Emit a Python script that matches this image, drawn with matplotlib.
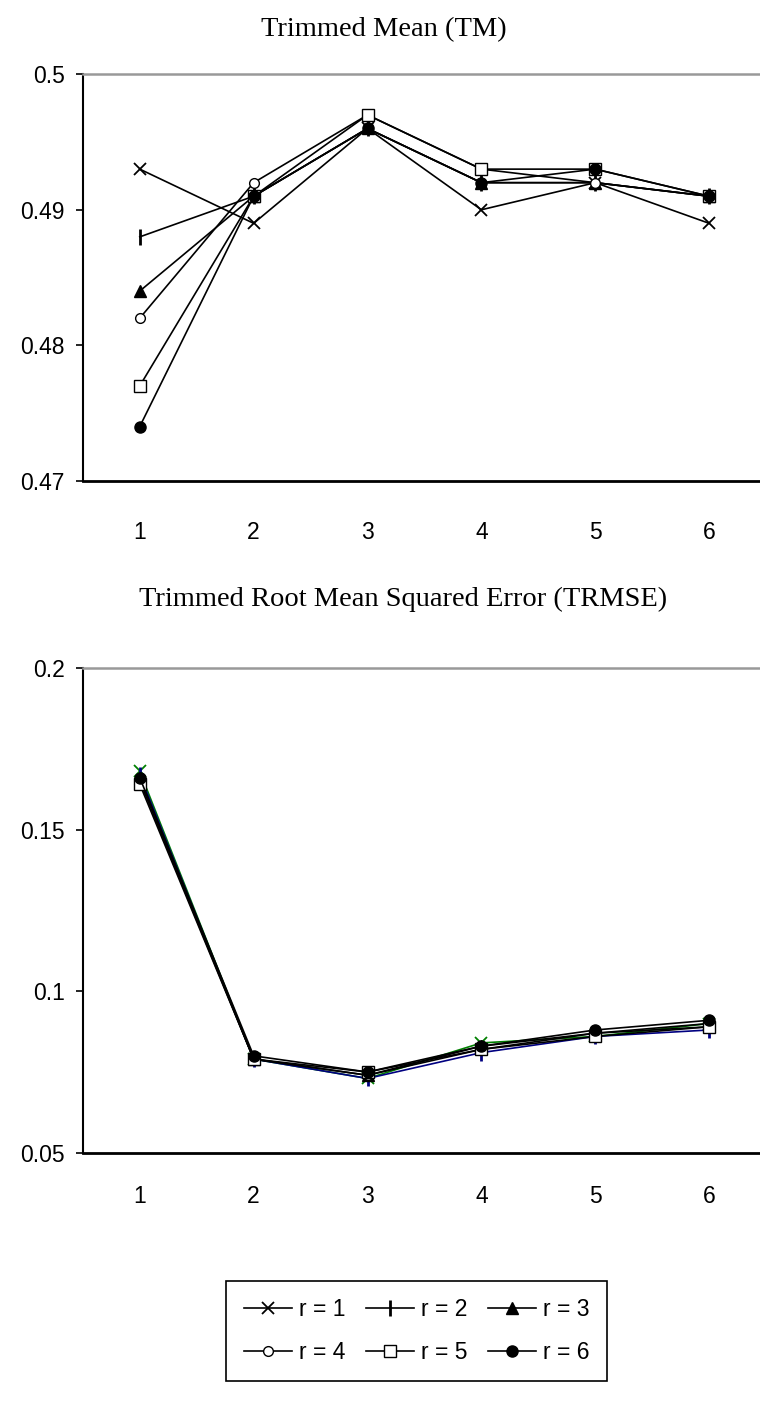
import matplotlib
matplotlib.use("Agg")
import matplotlib.pyplot as plt

plt.rcParams["font.family"] = ["Liberation Sans", "DejaVu Sans"]

x_vals = [1, 2, 3, 4, 5, 6]
x_labels = ["1", "2", "3", "4", "5", "6"]
series_names = ["r = 1", "r = 2", "r = 3", "r = 4", "r = 5", "r = 6"]

# Trimmed Mean (TM)
tm_r1 = [0.493, 0.489, 0.496, 0.490, 0.492, 0.489]
tm_r2 = [0.488, 0.491, 0.496, 0.492, 0.492, 0.491]
tm_r3 = [0.484, 0.491, 0.496, 0.492, 0.492, 0.491]
tm_r4 = [0.482, 0.492, 0.497, 0.493, 0.492, 0.491]
tm_r5 = [0.477, 0.491, 0.497, 0.493, 0.493, 0.491]
tm_r6 = [0.474, 0.491, 0.496, 0.492, 0.493, 0.491]

# Trimmed Root Mean Squared Error (TRMSE)
trmse_r1 = [0.168, 0.079, 0.073, 0.084, 0.086, 0.090]
trmse_r2 = [0.167, 0.079, 0.073, 0.081, 0.086, 0.088]
trmse_r3 = [0.166, 0.079, 0.074, 0.083, 0.087, 0.090]
trmse_r4 = [0.165, 0.079, 0.074, 0.082, 0.087, 0.089]
trmse_r5 = [0.164, 0.079, 0.075, 0.082, 0.086, 0.089]
trmse_r6 = [0.166, 0.080, 0.075, 0.083, 0.088, 0.091]

tm_yticks = [0.47, 0.48, 0.49, 0.5]
tm_ylabels = ["0.47", "0.48", "0.49", "0.5"]
trmse_yticks = [0.05, 0.1, 0.15, 0.2]
trmse_ylabels = ["0.05", "0.1", "0.15", "0.2"]

styles = [
    dict(marker="x", mfc="none", ms=9, mew=1.3),
    dict(marker="|", mfc="none", ms=11, mew=2.0),
    dict(marker="^", mfc="black", ms=8, mew=1.0),
    dict(marker="o", mfc="white", ms=7, mew=1.0),
    dict(marker="s", mfc="white", ms=8, mew=1.0),
    dict(marker="o", mfc="black", ms=8, mew=1.0),
]

TICK_FS = 16.5
TITLE_FS = 20.5


def style_axes(ax, yticks, ylabels, ylim, xpad):
    ax.set_xlim(0.5, 6.5)
    ax.set_ylim(*ylim)
    ax.set_xticks(x_vals)
    ax.set_xticklabels(x_labels)
    ax.set_yticks(yticks)
    ax.set_yticklabels(ylabels)
    ax.tick_params(axis="x", length=0, pad=xpad, labelsize=TICK_FS)
    ax.tick_params(axis="y", direction="out", length=5, width=1.2, pad=8, labelsize=TICK_FS)
    ax.spines["right"].set_visible(False)
    ax.spines["top"].set_color("#999999")
    ax.spines["top"].set_linewidth(1.8)
    ax.spines["left"].set_linewidth(1.5)
    ax.spines["bottom"].set_linewidth(2.0)


fig = plt.figure(figsize=(7.6, 14.18), dpi=100)

ax1 = fig.add_axes([0.109, 0.661, 0.899, 0.2866])
tm_series = [tm_r1, tm_r2, tm_r3, tm_r4, tm_r5, tm_r6]
handles = []
for vals, st, name in zip(tm_series, styles, series_names):
    (h,) = ax1.plot(x_vals, vals, color="black", mec="black", lw=1.2, label=name, **st)
    handles.append(h)
style_axes(ax1, tm_yticks, tm_ylabels, (0.47, 0.5), 29)
fig.text(0.505, 0.979, "Trimmed Mean (TM)", ha="center", va="center",
         fontsize=TITLE_FS, family=["Liberation Serif", "DejaVu Serif"])

ax2 = fig.add_axes([0.109, 0.187, 0.899, 0.342])
trmse_series = [trmse_r1, trmse_r2, trmse_r3, trmse_r4, trmse_r5, trmse_r6]
colors = ["#008000", "#000080", "black", "black", "black", "black"]
for vals, st, c in zip(trmse_series, styles, colors):
    ax2.plot(x_vals, vals, color=c, mec=c, lw=1.2, **st)
style_axes(ax2, trmse_yticks, trmse_ylabels, (0.05, 0.2), 23)
fig.text(0.53, 0.577, "Trimmed Root Mean Squared Error (TRMSE)", ha="center", va="center",
         fontsize=TITLE_FS, family=["Liberation Serif", "DejaVu Serif"])

# legend reads row by row: r=1 r=2 r=3 / r=4 r=5 r=6
order = [0, 3, 1, 4, 2, 5]
leg = fig.legend([handles[i] for i in order], [series_names[i] for i in order],
                 ncol=3, loc="center", bbox_to_anchor=(0.548, 0.0613), fontsize=TICK_FS,
                 frameon=True, fancybox=False, framealpha=1, edgecolor="black",
                 handlelength=2.1, handletextpad=0.3, columnspacing=0.9,
                 borderpad=0.75, labelspacing=0.85)
leg.get_frame().set_linewidth(1.2)

fig.savefig("out.png", dpi=100)
